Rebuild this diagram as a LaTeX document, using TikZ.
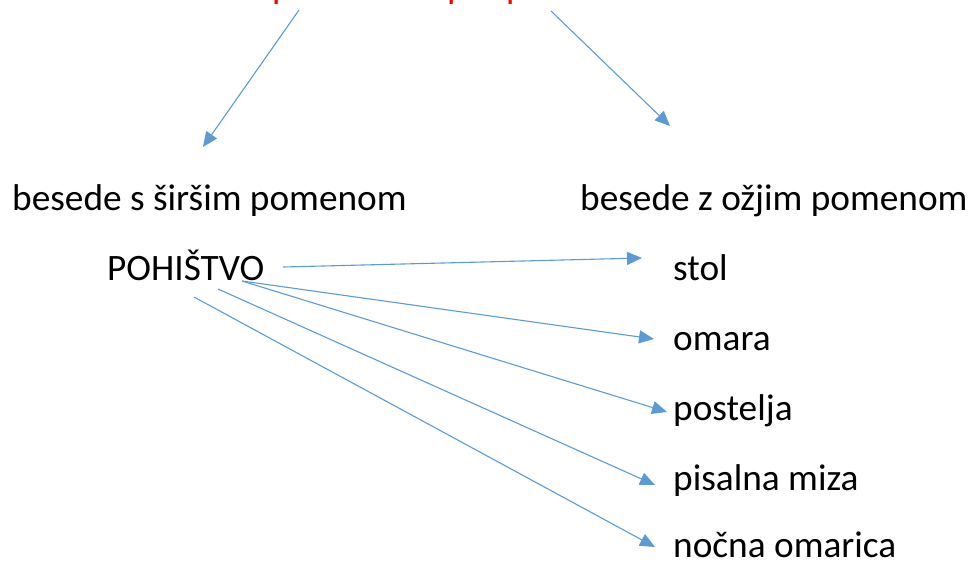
\documentclass[tikz,border=0pt]{standalone}
\usepackage{fontspec}
\setmainfont{Carlito}
\usetikzlibrary{arrows.meta}
\definecolor{arrowblue}{HTML}{5B9BD5}
\definecolor{redtext}{HTML}{FF0000}
\begin{document}
\begin{tikzpicture}[x=1pt,y=-1pt,
  lbl/.style={anchor=base west,inner sep=0pt,font=\fontsize{37.3}{40}\selectfont},
  redlbl/.style={lbl,text=redtext},
  conn/.style={draw=arrowblue,line width=1.1pt,-{Triangle[length=15pt,width=13pt]}}]
\useasboundingbox (0,0) rectangle (971,565);
\node[redlbl] (nad) at (215,-2) {nadpomenka};
\node[redlbl] (pod) at (447,-2) {podpomenka};
\node[lbl] (wide) at (12,210) {besede s širšim pomenom};
\node[lbl] (narrow) at (580,210) {besede z ožjim pomenom};
\node[lbl] (poh) at (107,280) {POHIŠTVO};
\node[lbl] (stol) at (673,280) {stol};
\node[lbl] (omara) at (673,350) {omara};
\node[lbl] (postelja) at (673,420) {postelja};
\node[lbl] (miza) at (673,490) {pisalna miza};
\node[lbl] (nocna) at (673,557) {nočna omarica};
% connector end points
\coordinate (nadS) at (299,10);
\coordinate (nadE) at (203,147);
\coordinate (podS) at (551,11);
\coordinate (podE) at (670,126);
\coordinate (p1) at (283,267);
\coordinate (p2) at (242,281);
\coordinate (p3) at (218,289);
\coordinate (p4) at (194,297);
\coordinate (stolE) at (642,258);
\coordinate (omaraE) at (654,339);
\coordinate (posteljaE) at (667,412);
\coordinate (mizaE) at (655,485);
\coordinate (nocnaE) at (655,547);
\draw[conn] (nadS) -- (nadE);
\draw[conn] (podS) -- (podE);
\draw[conn] (p1) -- (stolE);
\draw[conn] (p2) -- (omaraE);
\draw[conn] (p2) -- (posteljaE);
\draw[conn] (p3) -- (mizaE);
\draw[conn] (p4) -- (nocnaE);
\end{tikzpicture}
\end{document}
